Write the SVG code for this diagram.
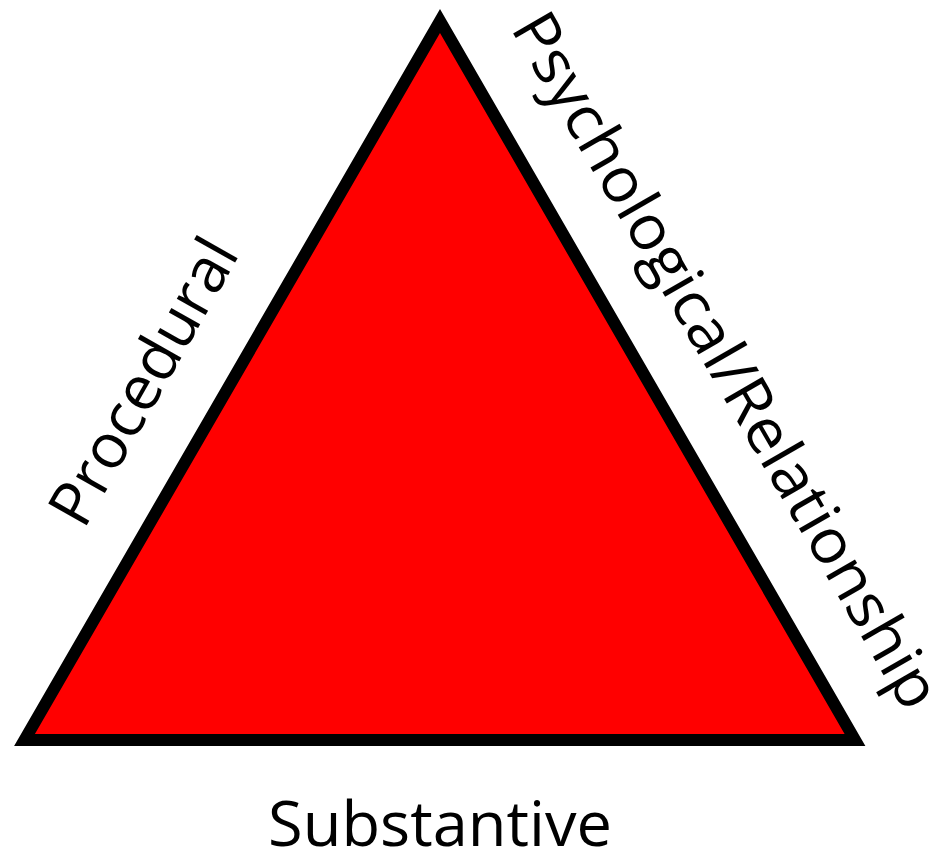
<svg xmlns="http://www.w3.org/2000/svg" width="936" height="857" viewBox="0 0 936 857">
<style>
.lbl{font-family:"Open Sans","Noto Sans","Liberation Sans",sans-serif;font-size:62px;fill:#000;}
</style>
<rect width="936" height="857" fill="#fff"/>
<g id="triangle">
<polygon points="440,21 24.5,740 855,740" fill="#ff0000" stroke="#000" stroke-width="12" stroke-linejoin="miter" stroke-miterlimit="10"/>
</g>
<g id="labels">
<text class="lbl" x="440" y="846" text-anchor="middle" textLength="344" lengthAdjust="spacingAndGlyphs">Substantive</text>
<text class="lbl" transform="translate(162,392) rotate(-60.5)" x="0" y="0" text-anchor="middle" textLength="318" lengthAdjust="spacingAndGlyphs">Procedural</text>
<text class="lbl" transform="translate(708,371) rotate(60)" x="0" y="0" text-anchor="middle" textLength="792" lengthAdjust="spacingAndGlyphs">Psychological/Relationship</text>
</g>
</svg>
